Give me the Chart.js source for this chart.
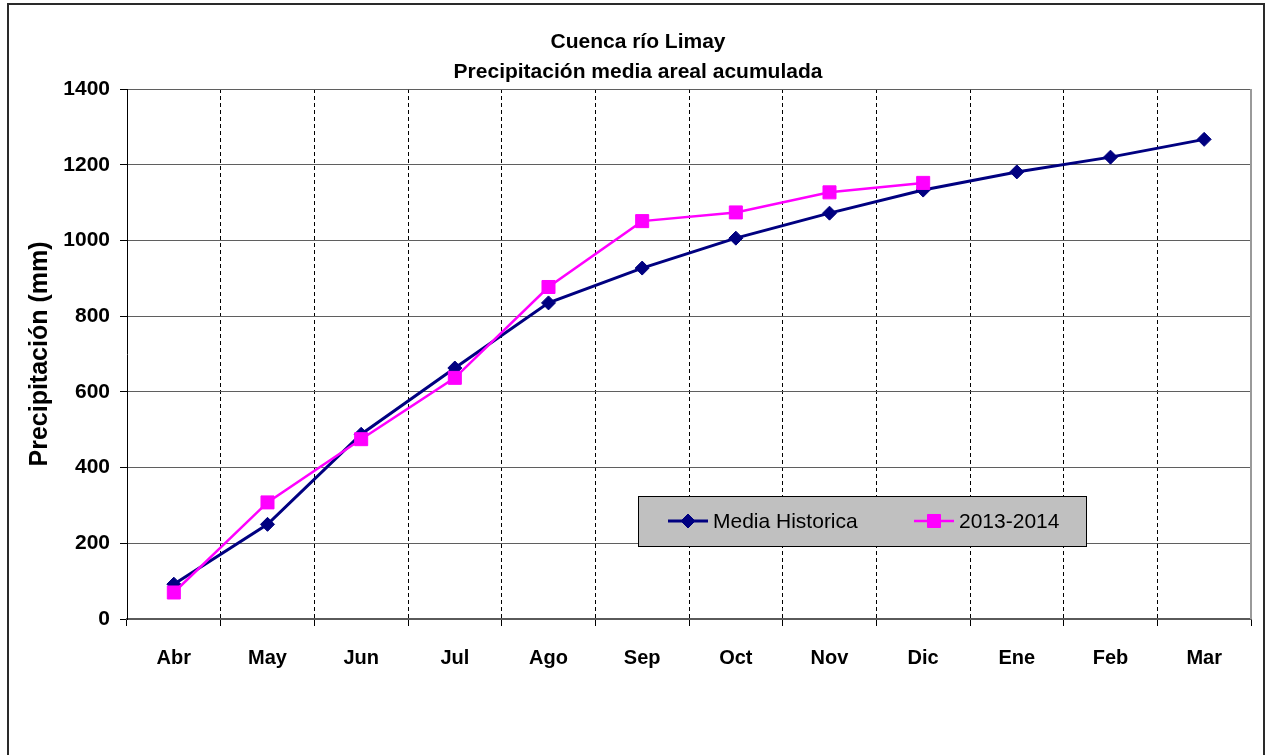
<!DOCTYPE html>
<html>
<head>
<meta charset="utf-8">
<style>
  html, body { margin: 0; padding: 0; background: #fff; }
  #wrap { width: 1268px; height: 755px; }
</style>
<script src="https://cdn.jsdelivr.net/npm/chart.js@4/dist/chart.umd.min.js"></script>
</head>
<body>
<div id="wrap"><canvas id="chart" width="1268" height="755"></canvas></div>
<script>
// Meses del año hidrológico (abril a marzo)
const months = ['Abr', 'May', 'Jun', 'Jul', 'Ago', 'Sep', 'Oct', 'Nov', 'Dic', 'Ene', 'Feb', 'Mar'];

// Precipitación media areal acumulada (mm)
const mediaHistorica = [92, 250, 488, 663, 835, 927, 1006, 1072, 1133, 1181, 1220, 1267];
const temporada2013 = [70, 308, 475, 637, 877, 1051, 1074, 1127, 1152, null, null, null];

// Eje de precipitación
const yMin = 0;
const yMax = 1400;
const yStep = 200;

const titleLines = ['Cuenca río Limay', 'Precipitación media areal acumulada'];
const yAxisTitle = 'Precipitación (mm)';

const FONT = '"Liberation Sans", Arial, Helvetica, sans-serif';

// Marco exterior, título y borde derecho del área de trazado
const framePlugin = {
  id: 'frame',
  beforeDraw(chart) {
    const ctx = chart.ctx;
    ctx.save();
    ctx.fillStyle = '#ffffff';
    ctx.fillRect(0, 0, chart.width, chart.height);
    ctx.strokeStyle = '#2a2a2a';
    ctx.lineWidth = 2;
    ctx.strokeRect(8, 4, 1256, 800);
    ctx.fillStyle = '#000';
    ctx.font = 'bold 21px ' + FONT;
    ctx.textAlign = 'center';
    ctx.textBaseline = 'middle';
    titleLines.forEach((t, i) => ctx.fillText(t, 638, 42 + i * 30));
    ctx.restore();
  },
  beforeDatasetsDraw(chart) {
    const {ctx, chartArea} = chart;
    ctx.save();
    ctx.strokeStyle = '#9a9a9a';
    ctx.lineWidth = 2;
    ctx.beginPath();
    ctx.moveTo(chartArea.right, chartArea.top);
    ctx.lineTo(chartArea.right, chartArea.bottom);
    ctx.stroke();
    ctx.restore();
  }
};

// Leyenda en recuadro gris dentro del área de trazado
const legendBoxPlugin = {
  id: 'legendBox',
  afterDraw(chart) {
    const ctx = chart.ctx;
    const box = {x: 638, y: 496, w: 448, h: 50};
    const cy = box.y + box.h / 2;
    ctx.save();
    ctx.fillStyle = '#c0c0c0';
    ctx.fillRect(box.x, box.y, box.w, box.h);
    ctx.strokeStyle = '#000';
    ctx.lineWidth = 1;
    ctx.strokeRect(box.x + 0.5, box.y + 0.5, box.w, box.h);
    const starts = [668, 914];
    chart.data.datasets.forEach((ds, i) => {
      const x0 = starts[i];
      ctx.strokeStyle = ds.borderColor;
      ctx.lineWidth = ds.borderWidth;
      ctx.beginPath();
      ctx.moveTo(x0, cy);
      ctx.lineTo(x0 + 40, cy);
      ctx.stroke();
      ctx.fillStyle = ds.pointBackgroundColor;
      ctx.strokeStyle = ds.pointBorderColor;
      ctx.lineWidth = ds.pointBorderWidth;
      ctx.beginPath();
      if (ds.pointStyle === 'rectRot') {
        const r = ds.pointRadius;
        ctx.moveTo(x0 + 20, cy - r);
        ctx.lineTo(x0 + 20 + r, cy);
        ctx.lineTo(x0 + 20, cy + r);
        ctx.lineTo(x0 + 20 - r, cy);
        ctx.closePath();
      } else {
        const s = ds.pointRadius * Math.SQRT1_2;
        ctx.rect(x0 + 20 - s, cy - s, 2 * s, 2 * s);
      }
      ctx.fill();
      ctx.stroke();
      ctx.fillStyle = '#000';
      ctx.font = '21px ' + FONT;
      ctx.textAlign = 'left';
      ctx.textBaseline = 'middle';
      ctx.fillText(ds.label, x0 + 45, cy + 1);
    });
    ctx.restore();
  }
};

new Chart(document.getElementById('chart'), {
  type: 'line',
  data: {
    labels: months,
    datasets: [
      {
        label: 'Media Historica',
        data: mediaHistorica,
        borderColor: '#000080',
        backgroundColor: '#000080',
        borderWidth: 3,
        pointStyle: 'rectRot',
        pointRadius: 7,
        pointHoverRadius: 7,
        pointBackgroundColor: '#000080',
        pointBorderColor: '#000080',
        pointBorderWidth: 1,
        tension: 0,
        order: 1
      },
      {
        label: '2013-2014',
        data: temporada2013,
        borderColor: '#ff00ff',
        backgroundColor: '#ff00ff',
        borderWidth: 2.5,
        pointStyle: 'rect',
        pointRadius: 9.2,
        pointHoverRadius: 9.2,
        pointBackgroundColor: '#ff00ff',
        pointBorderColor: '#ff00ff',
        pointBorderWidth: 1,
        tension: 0,
        spanGaps: false,
        order: 0
      }
    ]
  },
  options: {
    responsive: false,
    animation: false,
    devicePixelRatio: 1,
    layout: { padding: { top: 89, right: 17, left: 0, bottom: 0 } },
    plugins: {
      legend: { display: false },
      title: { display: false },
      tooltip: { enabled: false }
    },
    scales: {
      x: {
        type: 'category',
        offset: true,
        afterFit(scale) { scale.height = 136; },
        grid: {
          offset: true,
          drawOnChartArea: true,
          color: c => (c.index === 0 || c.index === months.length) ? 'rgba(0,0,0,0)' : '#000',
          lineWidth: 1,
          borderDash: [4, 3],
          tickBorderDash: [],
          tickColor: '#000',
          tickLength: 7,
          tickWidth: 1
        },
        border: { display: true, color: '#5a5a5a', width: 2, dash: [4, 3] },
        ticks: {
          color: '#000',
          font: { family: FONT, size: 20, weight: 'bold' },
          padding: 20,
          autoSkip: false,
          maxRotation: 0
        }
      },
      y: {
        min: yMin,
        max: yMax,
        afterFit(scale) { scale.width = 127; },
        grid: {
          color: '#5f5f5f',
          lineWidth: 1,
          tickColor: '#000',
          tickLength: 7,
          tickWidth: 1
        },
        border: { display: true, color: '#000', width: 1 },
        ticks: {
          stepSize: yStep,
          color: '#000',
          font: { family: FONT, size: 21, weight: 'bold' },
          padding: 10,
          format: { useGrouping: false }
        },
        title: {
          display: true,
          text: yAxisTitle,
          color: '#000',
          font: { family: FONT, size: 25, weight: 'bold' },
          padding: { top: 25, bottom: 0 }
        }
      }
    }
  },
  plugins: [framePlugin, legendBoxPlugin]
});
</script>
</body>
</html>
